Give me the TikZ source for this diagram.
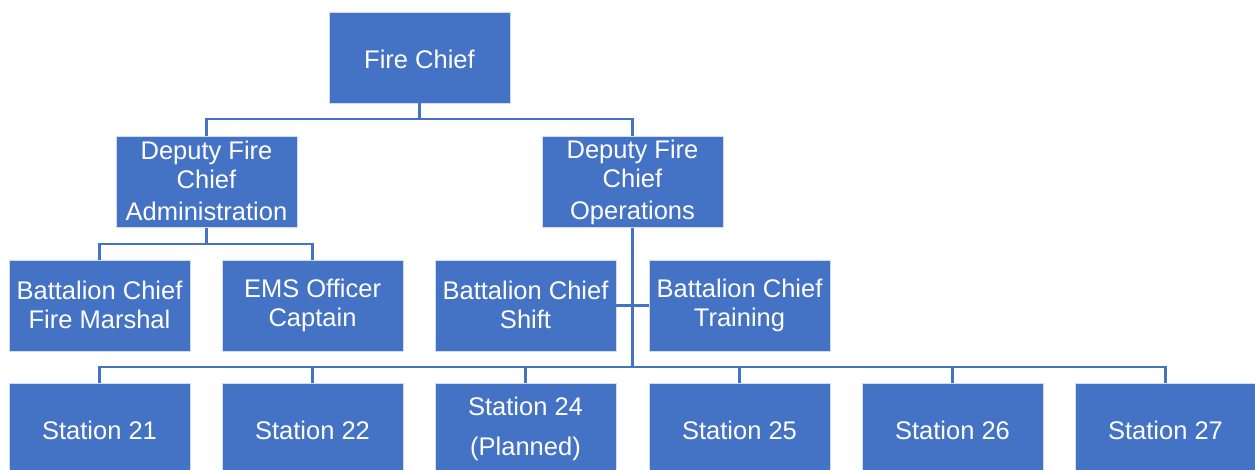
\documentclass[tikz,border=0pt]{standalone}
\usepackage{fontspec}
\setmainfont{Liberation Sans}
\definecolor{bluebox}{HTML}{4472C4}
\newcommand{\boxstrut}{\rule[-2pt]{0pt}{26pt}}
\begin{document}
\begin{tikzpicture}[x=1pt,y=1pt,
  box/.style={rectangle, fill=bluebox, draw=white!75!bluebox, line width=0.8pt,
    minimum width=181pt, minimum height=91pt, inner sep=0pt, text=white,
    align=center, font=\fontsize{25.5}{29}\selectfont,
    execute at begin node=\boxstrut, execute at end node=\boxstrut},
  link/.style={draw=bluebox, line width=2.4pt}]
\useasboundingbox (0,0) rectangle (1255,470);
\fill[white] (0,0) rectangle (1255,470);
% top
\node[box] (fc) at (419.5,412.5) {Fire Chief};
\node[box] (dfa) at (206.5,288) {Deputy Fire\\Chief\\[3pt]Administration};
\node[box] (dfo) at (632.5,288) {Deputy Fire\\Chief\\[3pt]Operations};
% level 3
\node[box] (bcfm) at (99.5,164.5) {Battalion Chief\\Fire Marshal};
\node[box] (ems) at (312.5,164.5) {EMS Officer\\Captain};
\node[box] (bcs) at (525.5,164.5) {Battalion Chief\\Shift};
\node[box] (bct) at (739.5,164.5) {Battalion Chief\\Training};
% stations
\node[box] (s21) at (99.5,41.5) {Station 21};
\node[box] (s22) at (312.5,41.5) {Station 22};
\node[box] (s24) at (525.5,41.5) {Station 24\\[11pt](Planned)};
\node[box] (s25) at (739.5,41.5) {Station 25};
\node[box] (s26) at (952.5,41.5) {Station 26};
\node[box] (s27) at (1165.5,41.5) {Station 27};
% connectors
\coordinate (b1) at (419.5,351);
\coordinate (b2) at (206.5,226);
\coordinate (b3) at (632.5,103);
\draw[link] (fc.south) -- (b1);
\draw[link] (b1) -| (dfa.north);
\draw[link] (b1) -| (dfo.north);
\draw[link] (dfa.south) -- (b2);
\draw[link] (b2) -| (bcfm.north);
\draw[link] (b2) -| (ems.north);
\draw[link] (dfo.south) -- (b3);
\draw[link] (bcs.east) -- (bct.west);
\draw[link] (b3) -| (s21.north);
\draw[link] (b3) -| (s22.north);
\draw[link] (b3) -| (s24.north);
\draw[link] (b3) -| (s25.north);
\draw[link] (b3) -| (s26.north);
\draw[link] (b3) -| (s27.north);
\end{tikzpicture}
\end{document}
